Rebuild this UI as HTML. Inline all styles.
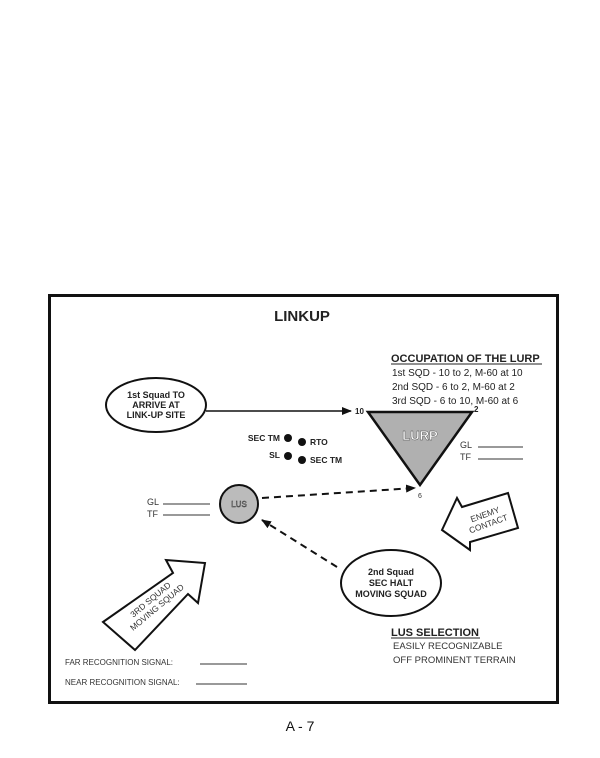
<!DOCTYPE html>
<html><head><style>html,body{margin:0;padding:0;background:#fff}svg{display:block}</style></head><body>
<svg width="600" height="758" viewBox="0 0 600 758" xmlns="http://www.w3.org/2000/svg" font-family="Liberation Sans, sans-serif">
<defs>
<marker id="ah" markerWidth="10" markerHeight="8" refX="9" refY="4" orient="auto" markerUnits="userSpaceOnUse"><path d="M0,0 L10,4 L0,8 z" fill="#111"/></marker>
</defs>
<rect x="49.5" y="295.5" width="508" height="407" fill="#fff" stroke="#111" stroke-width="3"/>
<text x="302" y="321" font-size="15" font-weight="bold" text-anchor="middle" fill="#222">LINKUP</text>
<text x="391" y="362" font-size="11" font-weight="bold" fill="#222">OCCUPATION OF THE LURP</text>
<line x1="391" y1="364" x2="542" y2="364" stroke="#222" stroke-width="1"/>
<text x="392" y="376" font-size="10" fill="#222">1st SQD - 10 to 2, M-60 at 10</text>
<text x="392" y="390" font-size="10" fill="#222">2nd SQD - 6 to 2, M-60 at 2</text>
<text x="392" y="404" font-size="10" fill="#222">3rd SQD - 6 to 10, M-60 at 6</text>
<ellipse cx="156" cy="405" rx="50" ry="27" fill="#fff" stroke="#111" stroke-width="2"/>
<text font-size="9" font-weight="bold" text-anchor="middle" fill="#222"><tspan x="156" y="398">1st Squad TO</tspan><tspan x="156" y="408">ARRIVE AT</tspan><tspan x="156" y="418">LINK-UP SITE</tspan></text>
<line x1="206" y1="411" x2="351" y2="411" stroke="#111" stroke-width="1.5" marker-end="url(#ah)"/>
<text x="355" y="414" font-size="8" font-weight="bold" fill="#222">10</text>
<polygon points="368,412 472,412 420,485" fill="#b0b0b0" stroke="#111" stroke-width="2.5"/>
<text x="474" y="412" font-size="8" font-weight="bold" fill="#222">2</text>
<text x="420" y="440" font-size="13" font-weight="bold" text-anchor="middle" fill="#fff" stroke="#444" stroke-width="0.4">LURP</text>
<text x="460" y="448" font-size="9" fill="#333">GL</text><line x1="478" y1="447" x2="523" y2="447" stroke="#333"/>
<text x="460" y="460" font-size="9" fill="#333">TF</text><line x1="478" y1="459" x2="523" y2="459" stroke="#333"/>
<text x="280" y="441" font-size="8.5" font-weight="bold" text-anchor="end" fill="#222">SEC TM</text>
<circle cx="288" cy="438" r="4" fill="#111"/>
<circle cx="302" cy="442" r="4" fill="#111"/>
<text x="310" y="445" font-size="8.5" font-weight="bold" fill="#222">RTO</text>
<text x="280" y="458" font-size="8.5" font-weight="bold" text-anchor="end" fill="#222">SL</text>
<circle cx="288" cy="456" r="4" fill="#111"/>
<circle cx="302" cy="460" r="4" fill="#111"/>
<text x="310" y="463" font-size="8.5" font-weight="bold" fill="#222">SEC TM</text>
<text x="420" y="498" font-size="7" text-anchor="middle" fill="#333">6</text>
<circle cx="239" cy="504" r="19" fill="#bbb" stroke="#111" stroke-width="2"/>
<text x="239" y="507" font-size="8" text-anchor="middle" fill="#fff" stroke="#333" stroke-width="0.5">LUS</text>
<text x="147" y="505" font-size="9" fill="#333">GL</text><line x1="163" y1="504" x2="210" y2="504" stroke="#333"/>
<text x="147" y="517" font-size="9" fill="#333">TF</text><line x1="163" y1="515" x2="210" y2="515" stroke="#333"/>
<line x1="262" y1="498" x2="415" y2="488" stroke="#111" stroke-width="2" stroke-dasharray="7,5" marker-end="url(#ah)"/>
<line x1="337" y1="567" x2="262" y2="520" stroke="#111" stroke-width="2" stroke-dasharray="7,5" marker-end="url(#ah)"/>
<ellipse cx="391" cy="583" rx="50" ry="33" fill="#fff" stroke="#111" stroke-width="2"/>
<text font-size="9" font-weight="bold" text-anchor="middle" fill="#222"><tspan x="391" y="575">2nd Squad</tspan><tspan x="391" y="586">SEC HALT</tspan><tspan x="391" y="597">MOVING SQUAD</tspan></text>
<polygon points="442,530 457,498 462,507 508,493 518,528 470,542 470,550" fill="#fff" stroke="#111" stroke-width="2"/>
<text font-size="8.5" text-anchor="middle" fill="#333" transform="rotate(-20 487 520)"><tspan x="487" y="517">ENEMY</tspan><tspan x="487" y="527">CONTACT</tspan></text>
<polygon points="103,622 173,573 166,560 205,563 198,603 188,594 135,650" fill="#fff" stroke="#111" stroke-width="2"/>
<text font-size="8.5" text-anchor="middle" fill="#333" transform="rotate(-40 155 605)"><tspan x="155" y="601">3RD SQUAD</tspan><tspan x="155" y="611">MOVING SQUAD</tspan></text>
<text x="391" y="636" font-size="11" font-weight="bold" fill="#222">LUS SELECTION</text>
<line x1="391" y1="638" x2="480" y2="638" stroke="#222"/>
<text x="393" y="649" font-size="9.5" fill="#333">EASILY RECOGNIZABLE</text>
<text x="393" y="663" font-size="9.5" fill="#333">OFF PROMINENT TERRAIN</text>
<text x="65" y="665" font-size="8" fill="#333">FAR RECOGNITION SIGNAL:</text><line x1="200" y1="664" x2="247" y2="664" stroke="#333"/>
<text x="65" y="685" font-size="8" fill="#333">NEAR RECOGNITION SIGNAL:</text><line x1="196" y1="684" x2="247" y2="684" stroke="#333"/>
<text x="300" y="731" font-size="14" text-anchor="middle" fill="#111">A - 7</text>
</svg>
</body></html>
